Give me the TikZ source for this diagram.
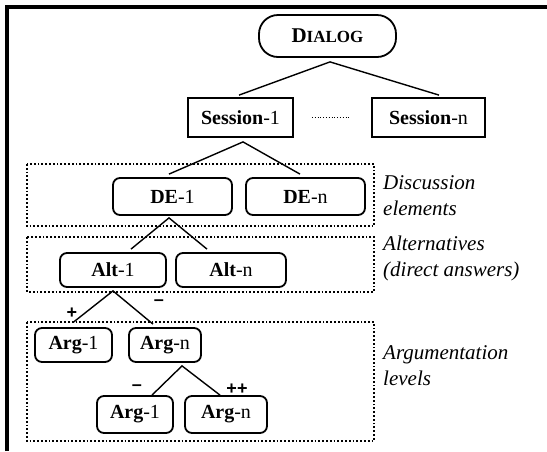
\documentclass[tikz,border=0pt]{standalone}
\usepackage{fontspec}
\setmainfont{Liberation Serif}
\newfontfamily\signfont{Liberation Sans}
\begin{document}
\begin{tikzpicture}[x=1pt,y=-1pt,
  box/.style={draw,line width=1.8pt,inner sep=0pt,font=\fontsize{20}{24}\selectfont},
  rbox/.style={box,rounded corners=7pt},
  group/.style={draw,dotted,line width=1.8pt},
  edge/.style={line width=1.4pt},
  sign/.style={font=\signfont\bfseries\fontsize{18}{20}\selectfont,inner sep=0pt},
  note/.style={anchor=west,align=left,inner sep=0pt,font=\itshape\fontsize{21}{25.5}\selectfont}]
\useasboundingbox (0,0) rectangle (547,451);
% frame
\draw[line width=4pt] (7,451) -- (7,7) -- (547,7);
% grouping boxes
\draw[group] (27,164) rectangle (374,226);
\draw[group] (27,237) rectangle (374,292);
\draw[group] (27,322) rectangle (374,441);
% nodes
\node[box,rounded corners=19pt,minimum width=137pt,minimum height=42pt] (dialog) at (327.5,36)
  {\fontsize{21}{24}\selectfont\textbf{D{\fontsize{17}{18}\selectfont IALOG}}};
\node[box,minimum width=105pt,minimum height=39pt] (s1) at (240.5,117.5) {\textbf{Session}-1};
\node[box,minimum width=113pt,minimum height=39pt] (sn) at (428.5,117.5) {\textbf{Session}-n};
\node[rbox,minimum width=119pt,minimum height=37pt] (de1) at (172.5,196.5) {\textbf{DE}-1};
\node[rbox,minimum width=119pt,minimum height=37pt] (den) at (305.5,196.5) {\textbf{DE}-n};
\node[rbox,minimum width=106pt,minimum height=34pt] (alt1) at (113,270) {\textbf{Alt}-1};
\node[rbox,minimum width=110pt,minimum height=34pt] (altn) at (231,270) {\textbf{Alt}-n};
\node[rbox,minimum width=77pt,minimum height=34pt] (arg1) at (73.5,345) {\textbf{Arg}-1};
\node[rbox,minimum width=72pt,minimum height=34pt] (argn) at (165,345) {\textbf{Arg}-n};
\node[rbox,minimum width=76pt,minimum height=37pt] (arg1b) at (135,414.5) {\textbf{Arg}-1};
\node[rbox,minimum width=82pt,minimum height=37pt] (argnb) at (226,414.5) {\textbf{Arg}-n};
% connectors
\draw[edge] ([xshift=-1.5pt,yshift=2pt]s1.north) -- ([xshift=2.5pt,yshift=-4pt]dialog.south)
  -- ([xshift=10.5pt,yshift=2pt]sn.north);
\draw[edge] ([xshift=-3.5pt,yshift=3pt]de1.north) -- ([xshift=2.5pt,yshift=-4pt]s1.south)
  -- ([xshift=-5.5pt,yshift=3pt]den.north);
\draw[edge] ([xshift=18pt,yshift=3pt]alt1.north) -- ([xshift=-3.5pt,yshift=-2pt]de1.south)
  -- ([xshift=-24pt,yshift=3pt]altn.north);
\draw[edge] ([yshift=5pt]arg1.north) -- ([yshift=-3pt]alt1.south)
  -- ([xshift=-12pt,yshift=3pt]argn.north);
\draw[edge] ([xshift=17pt]arg1b.north) -- ([xshift=17pt,yshift=-3pt]argn.south)
  -- ([xshift=-6pt]argnb.north);
\draw[dotted,line width=0.8pt] ([xshift=18pt]s1.east) -- ([xshift=-22pt]sn.west);
% signs
\node[sign] (p1) at (72,313) {+};
\node[sign] (m1) at (159,303) {\textendash};
\node[sign] (m2) at (137,388) {\textendash};
\node[sign] (p2) at (237,389) {++};
% level labels
\node[note] (l1) at (383,195.5) {Discussion\\elements};
\node[note] (l2) at (383,258.5) {Alternatives\\(direct answers)};
\node[note] (l3) at (383,365.5) {Argumentation\\levels};
\end{tikzpicture}
\end{document}
